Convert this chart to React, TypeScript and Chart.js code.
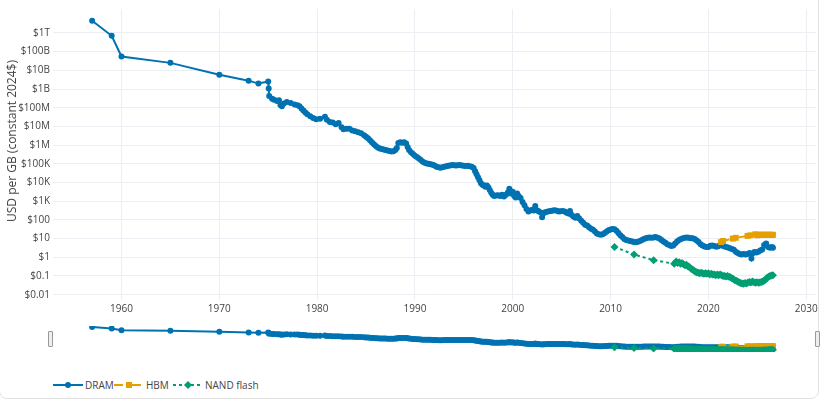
import React, { useEffect, useRef } from "react";
import { Chart, registerables } from "chart.js";
Chart.register(...registerables);

// ---------------- DATA ----------------
const dramYears = [
  1957.0, 1959.0, 1960.0, 1965.0, 1970.0, 1973.0, 1974.0, 1975.0, 1975.05, 1975.1,
  1975.4, 1975.6, 1975.9, 1976.1, 1976.25, 1976.4, 1976.6, 1976.9, 1977.3, 1977.7,
  1978.0, 1978.2, 1978.4, 1978.6, 1978.8, 1979.0, 1979.3, 1979.6, 1979.9, 1980.3,
  1980.8, 1981.0, 1981.3, 1981.6, 1981.9, 1982.2, 1982.5, 1982.7, 1983.0, 1983.3,
  1983.6, 1983.9, 1984.2, 1984.5, 1984.8, 1985.0, 1985.2, 1985.4, 1985.6, 1985.8,
  1986.0, 1986.2, 1986.4, 1986.6, 1986.8, 1987.0, 1987.2, 1987.4, 1987.6, 1987.8,
  1988.0, 1988.15, 1988.3, 1988.5, 1988.7, 1988.9, 1989.1, 1989.25, 1989.4, 1989.6,
  1989.8, 1990.0, 1990.2, 1990.4, 1990.6, 1990.8, 1991.0, 1991.2, 1991.4, 1991.6,
  1991.8, 1992.0, 1992.2, 1992.4, 1992.6, 1992.8, 1993.0, 1993.2, 1993.4, 1993.6,
  1993.8, 1994.0, 1994.2, 1994.4, 1994.6, 1994.8, 1995.0, 1995.2, 1995.4, 1995.6,
  1995.8, 1996.0, 1996.15, 1996.3, 1996.45, 1996.6, 1996.75, 1996.9, 1997.05, 1997.2,
  1997.35, 1997.5, 1997.65, 1997.8, 1997.95, 1998.1, 1998.3, 1998.5, 1998.7, 1998.9,
  1999.1, 1999.3, 1999.5, 1999.65, 1999.8, 2000.0, 2000.15, 2000.3, 2000.45, 2000.6,
  2000.8, 2001.0, 2001.2, 2001.4, 2001.6, 2001.8, 2002.0, 2002.15, 2002.3, 2002.45,
  2002.6, 2002.8, 2003.0, 2003.15, 2003.3, 2003.5, 2003.7, 2003.9, 2004.1, 2004.3,
  2004.5, 2004.7, 2004.9, 2005.1, 2005.3, 2005.5, 2005.7, 2005.85, 2006.0, 2006.2,
  2006.4, 2006.6, 2006.8, 2007.0, 2007.2, 2007.4, 2007.6, 2007.8, 2008.0, 2008.2,
  2008.4, 2008.6, 2008.8, 2009.0, 2009.2, 2009.4, 2009.6, 2009.8, 2010.0, 2010.2,
  2010.4, 2010.6, 2010.8, 2011.0, 2011.2, 2011.4, 2011.6, 2011.8, 2012.0, 2012.2,
  2012.4, 2012.6, 2012.8, 2013.0, 2013.2, 2013.4, 2013.6, 2013.8, 2014.0, 2014.2,
  2014.4, 2014.6, 2014.8, 2015.0, 2015.2, 2015.4, 2015.6, 2015.8, 2016.0, 2016.2,
  2016.4, 2016.6, 2016.8, 2017.0, 2017.2, 2017.4, 2017.6, 2017.8, 2018.0, 2018.2,
  2018.4, 2018.6, 2018.8, 2019.0, 2019.2, 2019.4, 2019.6, 2019.8, 2020.0, 2020.2,
  2020.4, 2020.6, 2020.8, 2021.0, 2021.2, 2021.4, 2021.6, 2021.8, 2022.0, 2022.2,
  2022.4, 2022.6, 2022.8, 2023.0, 2023.2, 2023.4, 2023.6, 2023.8, 2024.0, 2024.2,
  2024.4, 2024.5, 2024.7, 2024.9, 2025.1, 2025.3, 2025.5, 2025.7, 2025.9, 2026.1,
  2026.3, 2026.5, 2026.6,
];
const dramValues = [
  4.5e12, 7e11, 5.5e10, 2.5e10, 5.8e9, 2.8e9, 1.95e9, 2.5e9, 1.05e9, 4.2e8,
  3.0e8, 2.7e8, 2.3e8, 2.5e8, 1.4e8, 1.2e8, 1.7e8, 2.0e8, 1.8e8, 1.5e8,
  1.35e8, 1.2e8, 9e7, 7e7, 5.5e7, 4.5e7, 3.5e7, 2.8e7, 2.4e7, 2.6e7,
  3.3e7, 2.3e7, 1.7e7, 1.6e7, 1.3e7, 1.5e7, 9e6, 7e6, 7.5e6, 7.5e6,
  6e6, 5.5e6, 4.8e6, 4.3e6, 3.4e6, 2.8e6, 2.3e6, 1.8e6, 1.4e6, 1.1e6,
  9e5, 7.5e5, 6.5e5, 6.2e5, 5.8e5, 5.5e5, 5.2e5, 4.8e5, 4.5e5, 4.7e5,
  5.5e5, 7e5, 1.3e6, 1.4e6, 1.35e6, 1.4e6, 1.2e6, 8e5, 5.5e5, 4.2e5,
  3.3e5, 2.7e5, 2.3e5, 1.9e5, 1.6e5, 1.3e5, 1.15e5, 1.05e5, 1.0e5, 9.5e4,
  9e4, 8e4, 7e4, 6.5e4, 6.2e4, 6.5e4, 7e4, 7.3e4, 7.8e4, 8.2e4,
  8.5e4, 8.3e4, 8e4, 8.3e4, 8.5e4, 8e4, 7.8e4, 7.6e4, 7.8e4, 7.3e4,
  7e4, 6e4, 4e4, 2.8e4, 1.9e4, 1.3e4, 9e3, 7.5e3, 7e3, 6e3,
  7e3, 5.5e3, 4e3, 2.8e3, 2.2e3, 1.9e3, 2.0e3, 2.1e3, 1.9e3, 2.2e3,
  1.8e3, 2.2e3, 2.9e3, 4.6e3, 2.6e3, 3.2e3, 1.9e3, 1.6e3, 2.6e3, 1.9e3,
  1.5e3, 900, 600, 380, 280, 320, 350, 320, 550, 330,
  300, 260, 140, 230, 260, 270, 290, 300, 320, 330,
  310, 280, 290, 300, 280, 240, 220, 300, 190, 150,
  130, 160, 120, 90, 70, 55, 50, 40, 34, 30,
  24, 19, 17, 16, 17, 20, 24, 28, 31, 33,
  32, 26, 20, 15, 12, 9.5, 8.5, 8.0, 7.5, 7.0,
  6.5, 6.3, 6.8, 7.5, 8.5, 9.5, 10.5, 11, 11.5, 11,
  11.5, 12, 11, 10, 8.5, 7, 6, 5, 4.5, 4,
  4.3, 5.5, 7, 8.5, 9.5, 10.5, 11, 11.5, 11, 10.5,
  10.5, 9.5, 8, 6.5, 5, 4.3, 3.8, 3.5, 3.6, 4.2,
  4.3, 4.0, 3.7, 3.9, 4.5, 4.3, 3.9, 3.5, 3.3, 3.0,
  2.8, 2.5, 2.0, 1.7, 1.5, 1.4, 1.5, 1.4, 1.5, 1.7,
  0.85, 1.6, 1.9, 1.8, 2.0, 2.3, 2.6, 4.5, 5.5, 3.5,
  3.2, 3.6, 3.2,
];

const hbmYears = [
  2021.3, 2021.5, 2022.5, 2022.8, 2024.0, 2024.3, 2024.8, 2025.0, 2025.1, 2025.2,
  2025.3, 2025.4, 2025.5, 2025.6, 2025.7, 2025.8, 2025.9, 2026.0, 2026.1, 2026.2,
  2026.3, 2026.4, 2026.5, 2026.6,
];
const hbmValues = [
  6.5, 7.5, 10, 11, 14, 15, 17, 15, 16, 16,
  15.5, 16, 16, 15.5, 16, 16, 15.5, 16, 16, 15.5,
  16, 16, 15.5, 16,
];

const nandYears = [
  2010.4, 2012.4, 2014.4, 2016.5, 2016.7, 2016.85, 2017.0, 2017.15, 2017.3, 2017.45,
  2017.6, 2017.75, 2017.9, 2018.05, 2018.2, 2018.35, 2018.5, 2018.65, 2018.8, 2018.95,
  2019.1, 2019.25, 2019.4, 2019.55, 2019.7, 2019.85, 2020.0, 2020.15, 2020.3, 2020.45,
  2020.6, 2020.75, 2020.9, 2021.05, 2021.2, 2021.35, 2021.5, 2021.65, 2021.8, 2021.95,
  2022.1, 2022.25, 2022.4, 2022.55, 2022.7, 2022.85, 2023.0, 2023.15, 2023.3, 2023.45,
  2023.6, 2023.75, 2023.9, 2024.05, 2024.2, 2024.35, 2024.5, 2024.65, 2024.8, 2024.95,
  2025.1, 2025.25, 2025.4, 2025.55, 2025.7, 2025.85, 2026.0, 2026.15, 2026.3, 2026.45,
  2026.6,
];
const nandValues = [
  3.6, 1.4, 0.7, 0.45, 0.6, 0.5, 0.55, 0.45, 0.5, 0.42,
  0.38, 0.4, 0.33, 0.3, 0.25, 0.22, 0.2, 0.17, 0.16, 0.15,
  0.14, 0.15, 0.14, 0.13, 0.14, 0.13, 0.14, 0.12, 0.13, 0.12,
  0.12, 0.11, 0.12, 0.11, 0.12, 0.11, 0.1, 0.1, 0.095, 0.1,
  0.09, 0.085, 0.075, 0.07, 0.06, 0.055, 0.05, 0.045, 0.042, 0.04,
  0.038, 0.042, 0.04, 0.045, 0.048, 0.045, 0.05, 0.046, 0.044, 0.046,
  0.043, 0.045, 0.047, 0.05, 0.055, 0.065, 0.08, 0.09, 0.1, 0.105,
  0.11,
];

const xTickValues = [1960, 1970, 1980, 1990, 2000, 2010, 2020, 2030];
const yTickValues = [0.01, 0.1, 1, 10, 100, 1e3, 1e4, 1e5, 1e6, 1e7, 1e8, 1e9, 1e10, 1e11, 1e12];
const yTickLabels = ["$0.01", "$0.1", "$1", "$10", "$100", "$1K", "$10K", "$100K", "$1M", "$10M", "$100M", "$1B", "$10B", "$100B", "$1T"];
const seriesNames = ["DRAM", "HBM", "NAND flash"];
const yTitle = "USD per GB (constant 2024$)";

// ---------------- STYLE ----------------
const COLORS = ["#0072B2", "#E69F00", "#009E73"];
const FONT = "'Open Sans', 'Noto Sans', sans-serif";
const TEXT = "#444";
const GRID = "#ebeef3";
const X_MIN = 1953;
const X_MAX = 2031;
const Y_MIN = 5.2e-3;
const Y_MAX = 1.9e13;

function buildDatasets() {
  const pts = (xs: number[], ys: number[]) => xs.map((x, i) => ({ x, y: ys[i] }));
  return [
    {
      label: seriesNames[0],
      data: pts(dramYears, dramValues),
      borderColor: COLORS[0],
      backgroundColor: COLORS[0],
      borderWidth: 2,
      pointRadius: 3,
      pointStyle: "circle",
      pointBorderWidth: 0,
      pointBackgroundColor: COLORS[0],
      tension: 0,
      order: 2,
    },
    {
      label: seriesNames[1],
      data: pts(hbmYears, hbmValues),
      borderColor: COLORS[1],
      backgroundColor: COLORS[1],
      borderWidth: 2,
      borderDash: [9, 9],
      pointRadius: 4.2,
      pointStyle: "rect",
      pointBorderWidth: 0,
      pointBackgroundColor: COLORS[1],
      tension: 0,
      order: 1,
    },
    {
      label: seriesNames[2],
      data: pts(nandYears, nandValues),
      borderColor: COLORS[2],
      backgroundColor: COLORS[2],
      borderWidth: 2,
      borderDash: [3, 3],
      pointRadius: 4,
      pointStyle: "rectRot",
      pointBorderWidth: 0,
      pointBackgroundColor: COLORS[2],
      tension: 0,
      order: 0,
    },
  ];
}

function labelForY(v: number) {
  const i = yTickValues.findIndex((t) => Math.abs(Math.log10(t) - Math.log10(v)) < 1e-6);
  return i >= 0 ? yTickLabels[i] : "";
}

function MainChart() {
  const ref = useRef<HTMLCanvasElement | null>(null);
  useEffect(() => {
    if (!ref.current) return;
    const chart = new Chart(ref.current, {
      type: "line",
      data: { datasets: buildDatasets() as any },
      options: {
        animation: false,
        responsive: false,
        maintainAspectRatio: false,
        devicePixelRatio: 1,
        layout: { padding: { left: 0, right: 9, top: 5, bottom: 0 } },
        plugins: { legend: { display: false }, tooltip: { enabled: false } },
        scales: {
          x: {
            type: "linear",
            min: X_MIN,
            max: X_MAX,
            afterBuildTicks: (s: any) => {
              s.ticks = xTickValues.map((v) => ({ value: v }));
            },
            afterFit: (s: any) => {
              s.height = 18;
            },
            grid: { color: GRID, drawTicks: false, lineWidth: 1 },
            border: { display: false },
            ticks: {
              padding: 3,
              color: TEXT,
              font: { family: FONT, size: 10 },
              maxRotation: 0,
              autoSkip: false,
              callback: (v: any) => String(v),
            },
          },
          y: {
            type: "logarithmic",
            min: Y_MIN,
            max: Y_MAX,
            afterBuildTicks: (s: any) => {
              s.ticks = yTickValues.map((v) => ({ value: v }));
            },
            afterFit: (s: any) => {
              s.width = 53;
            },
            grid: { color: GRID, drawTicks: false, lineWidth: 1 },
            border: { display: false },
            ticks: {
              padding: 3,
              color: TEXT,
              font: { family: FONT, size: 10 },
              autoSkip: false,
              callback: (v: any) => labelForY(Number(v)),
            },
          },
        },
      } as any,
    });
    return () => chart.destroy();
  }, []);
  return (
    <canvas
      ref={ref}
      width={825}
      height={318}
      style={{ position: "absolute", left: 0, top: 0, width: 825, height: 318 }}
    />
  );
}

function SliderChart() {
  const ref = useRef<HTMLCanvasElement | null>(null);
  useEffect(() => {
    if (!ref.current) return;
    const chart = new Chart(ref.current, {
      type: "line",
      data: { datasets: buildDatasets() as any },
      options: {
        animation: false,
        responsive: false,
        maintainAspectRatio: false,
        devicePixelRatio: 1,
        layout: { padding: { left: 53, right: 9, top: 6, bottom: 6 } },
        plugins: { legend: { display: false }, tooltip: { enabled: false } },
        scales: {
          x: { type: "linear", min: X_MIN, max: X_MAX, display: false },
          y: { type: "logarithmic", min: Y_MIN, max: Y_MAX, display: false },
        },
      } as any,
    });
    return () => chart.destroy();
  }, []);
  return (
    <canvas
      ref={ref}
      width={825}
      height={38}
      style={{ position: "absolute", left: 0, top: 320, width: 825, height: 38 }}
    />
  );
}

function Legend() {
  const items = [
    { name: seriesNames[0], cx: 68, color: COLORS[0], dash: "", shape: "circle" },
    { name: seriesNames[1], cx: 129, color: COLORS[1], dash: "9,9", shape: "square" },
    { name: seriesNames[2], cx: 188, color: COLORS[2], dash: "3,3", shape: "diamond" },
  ];
  const cy = 5;
  return (
    <svg
      width={300}
      height={14}
      style={{ position: "absolute", left: 0, top: 380, overflow: "visible" }}
    >
      {items.map((it) => (
        <g key={it.name}>
          <line
            x1={it.cx - 15}
            x2={it.cx + 15}
            y1={cy}
            y2={cy}
            stroke={it.color}
            strokeWidth={2}
            strokeDasharray={it.dash || undefined}
          />
          {it.shape === "circle" && <circle cx={it.cx} cy={cy} r={3} fill={it.color} />}
          {it.shape === "square" && (
            <rect x={it.cx - 3} y={cy - 3} width={6} height={6} fill={it.color} />
          )}
          {it.shape === "diamond" && (
            <polygon
              points={`${it.cx},${cy - 4} ${it.cx + 4},${cy} ${it.cx},${cy + 4} ${it.cx - 4},${cy}`}
              fill={it.color}
            />
          )}
          <text
            x={it.cx + 17}
            y={cy}
            dominantBaseline="central"
            fontFamily={FONT}
            fontSize={10}
            fill={TEXT}
          >
            {it.name}
          </text>
        </g>
      ))}
    </svg>
  );
}

function Handle({ left }: { left: number }) {
  return (
    <div
      style={{
        position: "absolute",
        left,
        top: 331,
        width: 3,
        height: 14,
        background: "#eee",
        border: "1px solid #999",
        borderRadius: 1,
        boxSizing: "content-box",
      }}
    />
  );
}

function YTitle() {
  return (
    <div
      style={{
        position: "absolute",
        left: 12,
        top: 141,
        transform: "translate(-50%, -50%) rotate(-90deg)",
        whiteSpace: "nowrap",
        fontFamily: FONT,
        fontSize: 12,
        color: TEXT,
        lineHeight: "14px",
      }}
    >
      {yTitle}
    </div>
  );
}

export default function App() {
  return (
    <div
      style={{
        position: "absolute",
        left: 0,
        top: 0,
        width: 825,
        height: 401,
        background: "#fff",
        overflow: "hidden",
      }}
    >
      <div
        style={{
          position: "absolute",
          left: -1,
          top: -10,
          width: 818,
          height: 407,
          border: "1px solid #e3e3e3",
          borderRadius: 8,
        }}
      />
      <MainChart />
      <YTitle />
      <SliderChart />
      <Handle left={48} />
      <Handle left={815} />
      <Legend />
    </div>
  );
}
